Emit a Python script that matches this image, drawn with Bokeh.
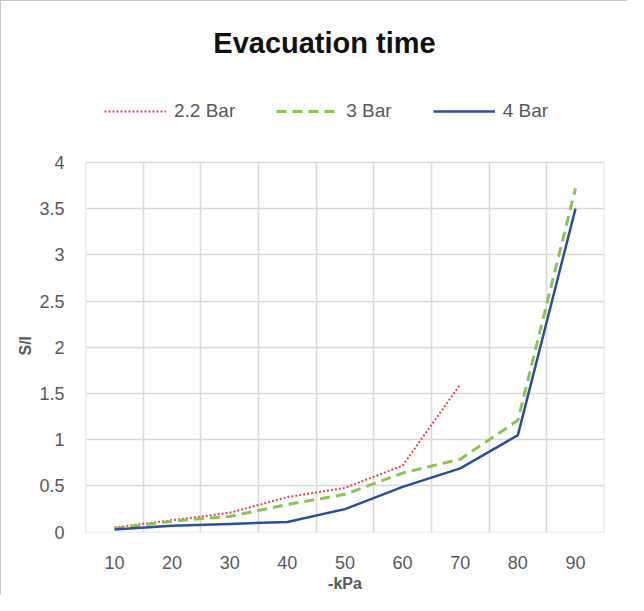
from bokeh.plotting import figure
from bokeh.models import Range1d, FixedTicker, Legend, LegendItem, Label, Title
from bokeh.embed import file_html
from bokeh.resources import INLINE

# ---- data ----
categories = ["10", "20", "30", "40", "50", "60", "70", "80", "90"]
bar_2_2 = [0.05, 0.13, 0.21, 0.38, 0.48, 0.72, 1.60]
bar_3 = [0.04, 0.12, 0.17, 0.30, 0.41, 0.64, 0.79, 1.21, 3.72]
bar_4 = [0.03, 0.07, 0.09, 0.11, 0.25, 0.49, 0.69, 1.05, 3.50]
series_names = ["2.2 Bar", "3 Bar", "4 Bar"]
y_ticks = [0, 0.5, 1, 1.5, 2, 2.5, 3, 3.5, 4]
y_tick_labels = ["0", "0.5", "1", "1.5", "2", "2.5", "3", "3.5", "4"]
title_text = "Evacuation time"
x_title = "-kPa"
y_title = "S/I"

FONT = "Liberation Sans"
GRID = "#d9d9d9"
TXT = "#595959"

W, H = 627, 594
LEFT, RIGHT, BOTTOM = 84, 24, 63
PLOT_H = 370          # pixel height of the 0..4 value area
frame_h = H - BOTTOM
y0, y1 = y_ticks[0], y_ticks[-1]
y_top = y0 + (y1 - y0) * frame_h / PLOT_H   # frame extends up to hold title & legend

n = len(categories)
xpos = list(range(1, n + 1))
eps = 0.003

p = figure(width=W, height=H, output_backend="svg", toolbar_location=None,
           title=None,
           x_range=Range1d(0.5 - eps, n + 0.5 + eps), y_range=Range1d(y0 - eps, y_top),
           min_border_left=LEFT, min_border_right=RIGHT, min_border_top=0,
           min_border_bottom=BOTTOM)
p.styles = {"border-top": "1px solid #c8c8c8", "border-left": "1px solid #c8c8c8"}
p.background_fill_color = "white"
p.border_fill_color = "white"
p.outline_line_color = None

# axes
p.xaxis.ticker = FixedTicker(ticks=xpos)
p.xaxis.major_label_overrides = {x: c for x, c in zip(xpos, categories)}
p.yaxis.ticker = FixedTicker(ticks=y_ticks)
p.yaxis.major_label_overrides = {t: l for t, l in zip(y_ticks, y_tick_labels)}
p.yaxis.bounds = (y0, y1)
for ax in (p.xaxis[0], p.yaxis[0]):
    ax.axis_line_color = None
    ax.major_tick_line_color = None
    ax.minor_tick_line_color = None
    ax.major_tick_out = 0
    ax.major_tick_in = 0
    ax.major_label_text_font = FONT
    ax.major_label_text_font_size = "18px"
    ax.major_label_text_color = TXT
    ax.axis_label_text_font = FONT
    ax.axis_label_text_font_size = "16px"
    ax.axis_label_text_font_style = "bold"
    ax.axis_label_text_color = TXT
p.xaxis.axis_label = x_title
p.xaxis.major_label_standoff = 23
p.xaxis.axis_label_standoff = 3
p.yaxis.major_label_standoff = 21

# y-axis title, centred on the 0..4 value area
p.add_layout(Title(text=y_title, align="left", offset=177, standoff=6,
                   text_font=FONT, text_font_size="16px", text_font_style="bold",
                   text_color=TXT), "left")

# grid at category boundaries, limited to the value area
p.xgrid.ticker = FixedTicker(ticks=[x - 0.5 for x in xpos] + [n + 0.5])
p.xgrid.cross_bounds = (y0, y1)
p.ygrid.ticker = FixedTicker(ticks=y_ticks)
for g in (p.xgrid[0], p.ygrid[0]):
    g.grid_line_color = GRID
    g.grid_line_width = 1.6

# series
r1 = p.line(xpos[:len(bar_2_2)], bar_2_2, line_color="#e8404c", line_width=2,
            line_dash="2 2")
r2 = p.line(xpos[:len(bar_3)], bar_3, line_color="#8cc453", line_width=3,
            line_dash="10 6")
r3 = p.line(xpos[:len(bar_4)], bar_4, line_color="#2a4ea0", line_width=2.5)

legend = Legend(items=[LegendItem(label=series_names[0], renderers=[r1]),
                       LegendItem(label=series_names[1], renderers=[r2]),
                       LegendItem(label=series_names[2], renderers=[r3])],
                location=(19, PLOT_H + 40), orientation="horizontal",
                glyph_width=62, glyph_height=20, label_height=20,
                label_standoff=8, spacing=41, padding=0, margin=0,
                border_line_color=None, background_fill_alpha=0,
                label_text_font=FONT, label_text_font_size="19px",
                label_text_color=TXT)
p.add_layout(legend)

title = Label(x=239, y=PLOT_H + 120, x_units="screen", y_units="screen", text=title_text,
              text_align="center", text_baseline="middle", text_font=FONT,
              text_font_size="29px", text_font_style="bold", text_color="#111111")
p.add_layout(title)

open("out.html", "w").write(file_html(p, INLINE))
